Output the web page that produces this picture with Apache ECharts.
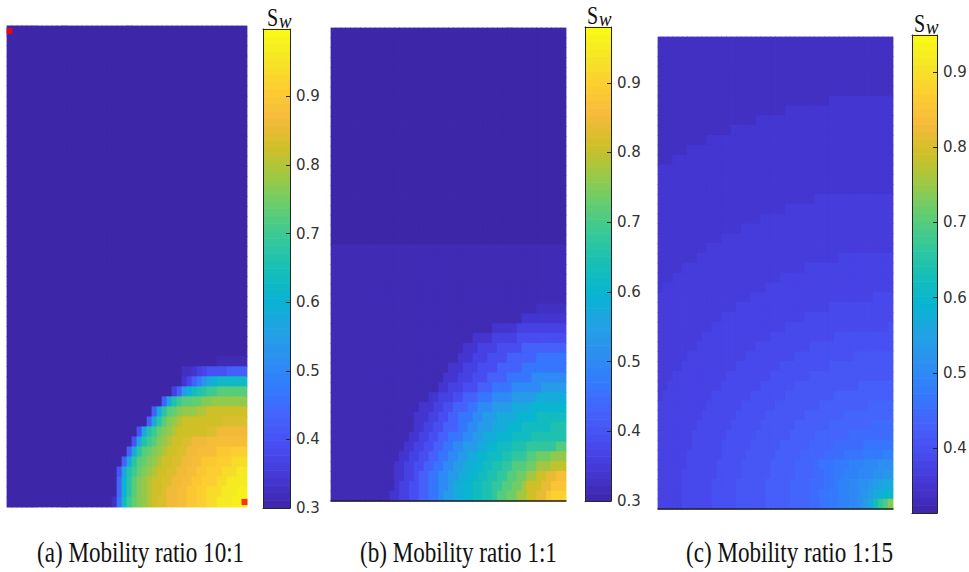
<!DOCTYPE html>
<html>
<head>
<meta charset="utf-8">
<script src="https://cdn.jsdelivr.net/npm/echarts@6/dist/echarts.min.js"></script>
<style>
  html, body { margin: 0; padding: 0; background: #ffffff; }
  #chart { width: 969px; height: 572px; }
</style>
</head>
<body>
<div id="chart"></div>
<script>
// Water saturation S_w on a 48 x 48 grid (quarter five-spot) for three mobility ratios.
// Rows run top to bottom, cells left to right, written in groups of eight.
// Each character is one cell: value = SAT_BASE + SAT_CODES.indexOf(ch) * SAT_STEP.
const SAT_CODES = '0123456789abcdefghijklmnopqrstuvwxyzABCDEFGHIJKLMNOPQRSTUVWXYZ';
const SAT_BASE = 0.3;
const SAT_STEP = 0.0125;

const captions = ['(a) Mobility ratio 10:1', '(b) Mobility ratio 1:1', '(c) Mobility ratio 1:15'];
const colorbarRanges = [[0.3, 0.998], [0.3, 0.98], [0.3136, 0.949]];
const colorbarTitle = ['S', 'w'];
// injector (top-left) and producer (bottom-right) cells, mobility ratio 10:1
const wellsA = [[0, 0], [47, 47]];

const satA = [
  '00000000 00000000 00000000 00000000 00000000 00000000',
  '00000000 00000000 00000000 00000000 00000000 00000000',
  '00000000 00000000 00000000 00000000 00000000 00000000',
  '00000000 00000000 00000000 00000000 00000000 00000000',
  '00000000 00000000 00000000 00000000 00000000 00000000',
  '00000000 00000000 00000000 00000000 00000000 00000000',
  '00000000 00000000 00000000 00000000 00000000 00000000',
  '00000000 00000000 00000000 00000000 00000000 00000000',
  '00000000 00000000 00000000 00000000 00000000 00000000',
  '00000000 00000000 00000000 00000000 00000000 00000000',
  '00000000 00000000 00000000 00000000 00000000 00000000',
  '00000000 00000000 00000000 00000000 00000000 00000000',
  '00000000 00000000 00000000 00000000 00000000 00000000',
  '00000000 00000000 00000000 00000000 00000000 00000000',
  '00000000 00000000 00000000 00000000 00000000 00000000',
  '00000000 00000000 00000000 00000000 00000000 00000000',
  '00000000 00000000 00000000 00000000 00000000 00000000',
  '00000000 00000000 00000000 00000000 00000000 00000000',
  '00000000 00000000 00000000 00000000 00000000 00000000',
  '00000000 00000000 00000000 00000000 00000000 00000000',
  '00000000 00000000 00000000 00000000 00000000 00000000',
  '00000000 00000000 00000000 00000000 00000000 00000000',
  '00000000 00000000 00000000 00000000 00000000 00000000',
  '00000000 00000000 00000000 00000000 00000000 00000000',
  '00000000 00000000 00000000 00000000 00000000 00000000',
  '00000000 00000000 00000000 00000000 00000000 00000000',
  '00000000 00000000 00000000 00000000 00000000 00000000',
  '00000000 00000000 00000000 00000000 00000000 00000000',
  '00000000 00000000 00000000 00000000 00000000 00000000',
  '00000000 00000000 00000000 00000000 00000000 00000000',
  '00000000 00000000 00000000 00000000 00000000 00000000',
  '00000000 00000000 00000000 00000000 00000000 00000000',
  '00000000 00000000 00000000 00000000 00000000 00000000',
  '00000000 00000000 00000000 00000000 00000000 00111111',
  '00000000 00000000 00000000 00000000 00022356 8888aaaa',
  '00000000 00000000 00000000 00000000 00036aei moqqqqqq',
  '00000000 00000000 00000000 00000000 05ajortu wwyyyyyy',
  '00000000 00000000 00000000 0000000a mtwyyzzB BCCCCCCC',
  '00000000 00000000 00000000 00000amu yzBCCCEE GGGGGGGG',
  '00000000 00000000 00000000 0000amuy BCEGGGGG GGGHHHHH',
  '00000000 00000000 00000000 008ltwzB CEGGGGGG HHJJJJJJ',
  '00000000 00000000 00000000 08ltwyBC EGGHHJJJ KKKKKKKK',
  '00000000 00000000 00000000 amuyzBCE GGHHJJKK KKMMMNNN',
  '00000000 00000000 0000000a muyzBCEG GHHJJKKM MMNNNPPP',
  '00000000 00000000 0000008l twzBCEGG HHJJKKMM NNNPPPRR',
  '00000000 00000000 000000bo uyBCEGGH HJJKKMMN NNPPRRRR',
  '00000000 00000000 000000bo uyBCEGGH JJKKMMNN PPPRRRSS',
  '00000000 00000000 000002dq wzBCEGHH JJKKMMNN PPRRRSSS'
];

const satB = [
  '00000000 00000000 00000000 00000000 00000000 00000000',
  '00000000 00000000 00000000 00000000 00000000 00000000',
  '00000000 00000000 00000000 00000000 00000000 00000000',
  '00000000 00000000 00000000 00000000 00000000 00000000',
  '00000000 00000000 00000000 00000000 00000000 00000000',
  '00000000 00000000 00000000 00000000 00000000 00000000',
  '00000000 00000000 00000000 00000000 00000000 00000000',
  '00000000 00000000 00000000 00000000 00000000 00000000',
  '00000000 00000000 00000000 00000000 00000000 00000000',
  '00000000 00000000 00000000 00000000 00000000 00000000',
  '00000000 00000000 00000000 00000000 00000000 00000000',
  '00000000 00000000 00000000 00000000 00000000 00000000',
  '00000000 00000000 00000000 00000000 00000000 00000000',
  '00000000 00000000 00000000 00000000 00000000 00000000',
  '00000000 00000000 00000000 00000000 00000000 00000000',
  '00000000 00000000 00000000 00000000 00000000 00000000',
  '00000000 00000000 00000000 00000000 00000000 00000000',
  '00000000 00000000 00000000 00000000 00000000 00000000',
  '00000000 00000000 00000000 00000000 00000000 00000000',
  '00000000 00000000 00000000 00000000 00000000 00000000',
  '00000000 00000000 00000000 00000000 00000000 00000000',
  '00000000 00000000 00000000 00000000 00000000 00000000',
  '11111111 11111111 11111111 11111111 11111111 11111111',
  '11111111 11111111 11111111 11111111 11111111 11111111',
  '11111111 11111111 11111111 11111111 11111111 11111111',
  '11111111 11111111 11111111 11111111 11111111 11111111',
  '11111111 11111111 11111111 11111111 11111111 11111111',
  '11111111 11111111 11111111 11111111 11111111 11111111',
  '11111111 11111111 11111111 11111111 11111111 11222222',
  '11111111 11111111 11111111 11111111 11111113 33333333',
  '11111111 11111111 11111111 11111111 13333355 55555555',
  '11111111 11111111 11111111 11111333 35555577 77777777',
  '11111111 11111111 11111111 11133355 5577777a aaaaaaaa',
  '11111111 11111111 11111111 11333555 7777aaaa aadddddd',
  '11111111 11111111 11111111 33355577 77aaaaad dddddddd',
  '11111111 11111111 11111113 33555777 aaaadddd dggggggg',
  '11111111 11111111 11111133 555777aa addddggg gggjjjjj',
  '11111111 11111111 11113355 577aaadd dggggjjj jjmmmmmm',
  '11111111 11111111 11333557 7aaaddgg gjjjjmmm mooooooo',
  '11111111 11111111 13335577 aadddggj jjmmmmoo ooqqqqqq',
  '11111111 11111111 1335577a aaddggjj jmmmoooq qqqqqsss',
  '11111111 11111111 335577aa dddggjjm mmoooqqq qsssssss',
  '11111111 11111113 35577aad dggjjjmm ooqqqsss uuuuuuxx',
  '11111111 11111133 5577aadd ggjjmmoo qqqssuuu xxzzzBBB',
  '11111111 11111335 577aaddg gjjmmooq qssuuxxx zzCCCEEE',
  '11111111 11111335 57aaddgg jjmmooqq ssuuxxzz CCFFHHJJ',
  '11111111 11111355 77aaddgg jmmooqqs suuxxzzC FFFHHKKK',
  '11111111 11113355 77aaddgj jmmooqqs suxxzzCC FFHHKMMM'
];

const satC = [
  '33333333 33333333 33333333 33333333 33333333 33333333',
  '33333333 33333333 33333333 33333333 33333333 33333333',
  '33333333 33333333 33333333 33333333 33333333 33333333',
  '33333333 33333333 33333333 33333333 33333333 33333333',
  '33333333 33333333 33333333 33333333 33333333 33333333',
  '33333333 33333333 33333333 33333333 33333333 33333333',
  '33333333 33333333 33333333 33333333 33344444 44444444',
  '33333333 33333333 33333333 33444444 44444444 44444444',
  '33333333 33333333 33334444 44444444 44444444 44444444',
  '33333333 33333334 44444444 44444444 44444444 44444444',
  '33333333 33444444 44444444 44444444 44444444 44444444',
  '33333344 44444444 44444444 44444444 44444444 44444444',
  '33344444 44444444 44444444 44444444 44444444 44444444',
  '44444444 44444444 44444444 44444444 44444444 44444444',
  '44444444 44444444 44444444 44444444 44444444 44444444',
  '44444444 44444444 44444444 44444444 44444444 44444444',
  '44444444 44444444 44444444 44444444 55555555 55555555',
  '44444444 44444444 44444444 44555555 55555555 55555555',
  '44444444 44444444 44444555 55555555 55555555 55555555',
  '44444444 44444444 45555555 55555555 55555555 55555555',
  '44444444 44444555 55555555 55555555 55555555 55555555',
  '44444444 44555555 55555555 55555555 55555555 55555555',
  '44444444 55555555 55555555 55555555 55555666 66666666',
  '44444555 55555555 55555555 55555566 66666666 66666666',
  '44455555 55555555 55555555 56666666 66666666 66666666',
  '45555555 55555555 55555566 66666666 66666666 66666666',
  '55555555 55555555 55566666 66666666 66666666 66667777',
  '55555555 55555555 66666666 66666666 66677777 77777777',
  '55555555 55555666 66666666 66666677 77777777 77777777',
  '55555555 55566666 66666666 66777777 77777777 77777778',
  '55555555 56666666 66666667 77777777 77778888 88888888',
  '55555555 66666666 66667777 77777778 88888888 88888888',
  '55555566 66666666 66777777 77778888 88888888 99999999',
  '55555666 66666666 77777777 78888888 88899999 99999999',
  '55566666 66666677 77777778 88888889 99999999 99999999',
  '55666666 66666777 77777888 88889999 99999999 9aaaaaaa',
  '56666666 66677777 77788888 88999999 9999aaaa aaaaaaaa',
  '66666666 66777777 78888888 99999999 9aaaaaaa aaabbbbb',
  '66666666 67777777 88888899 999999aa aaaaaabb bbbbbbbb',
  '66666666 77777778 88888999 9999aaaa aaabbbbb bbbbcccc',
  '66666667 77777788 88889999 999aaaaa bbbbbbbc cccccccc',
  '66666667 77777888 88899999 9aaaaaab bbbbcccc ccdddddd',
  '66666677 77777888 88999999 aaaaabbb bbccccdd ddeeeeff',
  '66666677 77778888 8999999a aaaabbbb cdddeeef ffggghhh',
  '66666777 77778888 8999999a aaaabbbb ccddeeff fggghhii',
  '66666777 77788888 999999aa aaabbbbc ccddeffg ghhijkll',
  '66666777 77788888 999999aa aaabbbbc cddeeffg ghijlmno',
  '66666777 77788888 999999aa aaabbbbc cddeeffg ghjlqtvz'
];

// parula colormap, sampled at 17 evenly spaced stops
const parula = [
  '#3e26a8', '#4537d5', '#484cf0', '#4562fc', '#337afd', '#2c90f0',
  '#21a3e3', '#08b4d1', '#17bfb6', '#36c899', '#61cd72', '#9ac946',
  '#cec027', '#f5ba3b', '#fdcd31', '#f5e626', '#f9fb15'
];

// ---- layout (pixels) ----
const panelBoxes = [
  { left: 7, top: 26, width: 240, height: 481 },
  { left: 331, top: 28, width: 235, height: 473 },
  { left: 658, top: 37, width: 235, height: 472 }
];
const colorbarBoxes = [
  { left: 263, top: 29, width: 27, height: 479 },
  { left: 585, top: 27, width: 26, height: 474 },
  { left: 912, top: 35, width: 25, height: 478 }
];
const captionX = [37, 360, 686];
const captionY = 552;
const titlePos = [
  { sx: 267, sy: 17, wx: 279, wy: 20 },
  { sx: 587, sy: 15, wx: 599, wy: 18 },
  { sx: 914, sy: 23, wx: 926, wy: 26 }
];

const satPanels = [satA, satB, satC];

function decodeRows(rows) {
  const out = [];
  rows.forEach(function (row, r) {
    const cells = row.replace(/ /g, '');
    for (let c = 0; c < cells.length; c++) {
      const v = SAT_BASE + SAT_CODES.indexOf(cells[c]) * SAT_STEP;
      out.push([c, r, Math.round(v * 10000) / 10000]);
    }
  });
  return out;
}

// 64 discrete colour bands of the colorbar, from the panel's colour limits
function colorbarBands(range) {
  const n = 64, out = [];
  for (let i = 0; i < n; i++) {
    const lo = range[0] + (range[1] - range[0]) * i / n;
    const hi = range[0] + (range[1] - range[0]) * (i + 1) / n;
    out.push([lo, hi, (lo + hi) / 2]);
  }
  return out;
}

// one grid cell, padded slightly so neighbouring cells overlap without hairline gaps
function renderCell(params, api) {
  const c = api.coord([api.value(0), api.value(1)]);
  const s = api.size([1, 1]);
  return {
    type: 'rect',
    shape: { x: c[0] - s[0] / 2 - 0.4, y: c[1] - s[1] / 2 - 0.4, width: s[0] + 0.8, height: s[1] + 0.8 },
    style: { fill: api.visual('color') }
  };
}

const colCats = satA[0].replace(/ /g, '').split('').map(function (_, i) { return i; });
const rowCats = satA.map(function (_, i) { return i; });

const grids = [], xAxes = [], yAxes = [], series = [], visualMaps = [];
const edge = { color: '#262626', width: 1 };

panelBoxes.concat(colorbarBoxes).forEach(function (b) {
  grids.push(Object.assign({ outerBoundsMode: 'none', containLabel: false }, b));
});

// field axes 0..2
panelBoxes.forEach(function (b, i) {
  xAxes.push({
    gridIndex: i, type: 'category', data: colCats, show: i > 0,
    axisLine: { show: true, onZero: false, lineStyle: { color: '#222222', width: 1.5 } },
    axisTick: { show: false }, axisLabel: { show: false }, splitLine: { show: false }, z: 5
  });
  yAxes.push({
    gridIndex: i, type: 'category', data: rowCats, inverse: true, show: false
  });
});
// colorbar axes: x bottom 3..5, y right 3..5
colorbarBoxes.forEach(function (b, i) {
  const range = colorbarRanges[i];
  xAxes.push({
    gridIndex: 3 + i, type: 'value', min: 0, max: 1, position: 'bottom',
    axisLine: { show: true, onZero: false, lineStyle: edge },
    axisTick: { show: false }, axisLabel: { show: false }, splitLine: { show: false }, z: 5
  });
  yAxes.push({
    gridIndex: 3 + i, type: 'value', min: range[0], max: range[1], position: 'right',
    minInterval: 0.1, maxInterval: 0.1,
    axisLine: { show: true, onZero: false, lineStyle: edge },
    axisTick: { show: true, inside: true, length: 4, lineStyle: edge },
    axisLabel: {
      show: true, margin: 6, color: '#333333', fontSize: 15, fontFamily: 'DejaVu Sans',
      showMinLabel: i < 2, showMaxLabel: false,
      formatter: function (v) { return v.toFixed(1); }
    },
    splitLine: { show: false }, z: 5
  });
});
// colorbar axes: x top 6..8, y left 6..8 (frame only)
colorbarBoxes.forEach(function (b, i) {
  const range = colorbarRanges[i];
  xAxes.push({
    gridIndex: 3 + i, type: 'value', min: 0, max: 1, position: 'top',
    axisLine: { show: true, onZero: false, lineStyle: edge },
    axisTick: { show: false }, axisLabel: { show: false }, splitLine: { show: false }, z: 5
  });
  yAxes.push({
    gridIndex: 3 + i, type: 'value', min: range[0], max: range[1], position: 'left',
    axisLine: { show: true, onZero: false, lineStyle: edge },
    axisTick: { show: false }, axisLabel: { show: false }, splitLine: { show: false }, z: 5
  });
});

// saturation fields: series 0..2
satPanels.forEach(function (rows, i) {
  series.push({
    type: 'custom', name: captions[i], xAxisIndex: i, yAxisIndex: i,
    data: decodeRows(rows), renderItem: renderCell, silent: true
  });
});
// colorbars: series 3..5
colorbarRanges.forEach(function (range, i) {
  series.push({
    type: 'custom', xAxisIndex: 3 + i, yAxisIndex: 3 + i,
    data: colorbarBands(range), clip: false, silent: true,
    renderItem: function (params, api) {
      const p0 = api.coord([0, api.value(1)]);
      const p1 = api.coord([1, api.value(0)]);
      return {
        type: 'rect',
        shape: { x: p0[0], y: p0[1] - 0.3, width: p1[0] - p0[0], height: p1[1] - p0[1] + 0.6 },
        style: { fill: api.visual('color') }
      };
    }
  });
});
// wells of panel (a): series 6
series.push({
  type: 'scatter', xAxisIndex: 0, yAxisIndex: 0, data: wellsA,
  symbol: 'rect', symbolSize: 6, itemStyle: { color: '#ff0000' }, z: 6, silent: true
});

colorbarRanges.forEach(function (range, i) {
  visualMaps.push({
    type: 'continuous', show: false, min: range[0], max: range[1],
    dimension: 2, seriesIndex: [i, 3 + i], inRange: { color: parula }
  });
});

const graphics = [];
captions.forEach(function (t, i) {
  graphics.push({
    type: 'text', x: captionX[i], y: captionY, scaleX: 0.77,
    style: {
      text: t, font: '30px "Liberation Serif"', fill: '#111111',
      align: 'left', textAlign: 'left', verticalAlign: 'middle', textVerticalAlign: 'middle'
    }
  });
});
titlePos.forEach(function (p) {
  graphics.push({
    type: 'text', x: p.sx, y: p.sy, scaleX: 0.77,
    style: {
      text: colorbarTitle[0], font: '26px "Liberation Serif"', fill: '#111111',
      align: 'left', textAlign: 'left', verticalAlign: 'middle', textVerticalAlign: 'middle'
    }
  });
  graphics.push({
    type: 'text', x: p.wx, y: p.wy, scaleX: 0.85,
    style: {
      text: colorbarTitle[1], font: 'italic 22px "Liberation Serif"', fill: '#111111',
      align: 'left', textAlign: 'left', verticalAlign: 'middle', textVerticalAlign: 'middle'
    }
  });
});

const chart = echarts.init(document.getElementById('chart'), null, { renderer: 'svg' });
chart.setOption({
  backgroundColor: '#ffffff',
  animation: false,
  grid: grids,
  xAxis: xAxes,
  yAxis: yAxes,
  visualMap: visualMaps,
  series: series,
  graphic: graphics
});
</script>
</body>
</html>
